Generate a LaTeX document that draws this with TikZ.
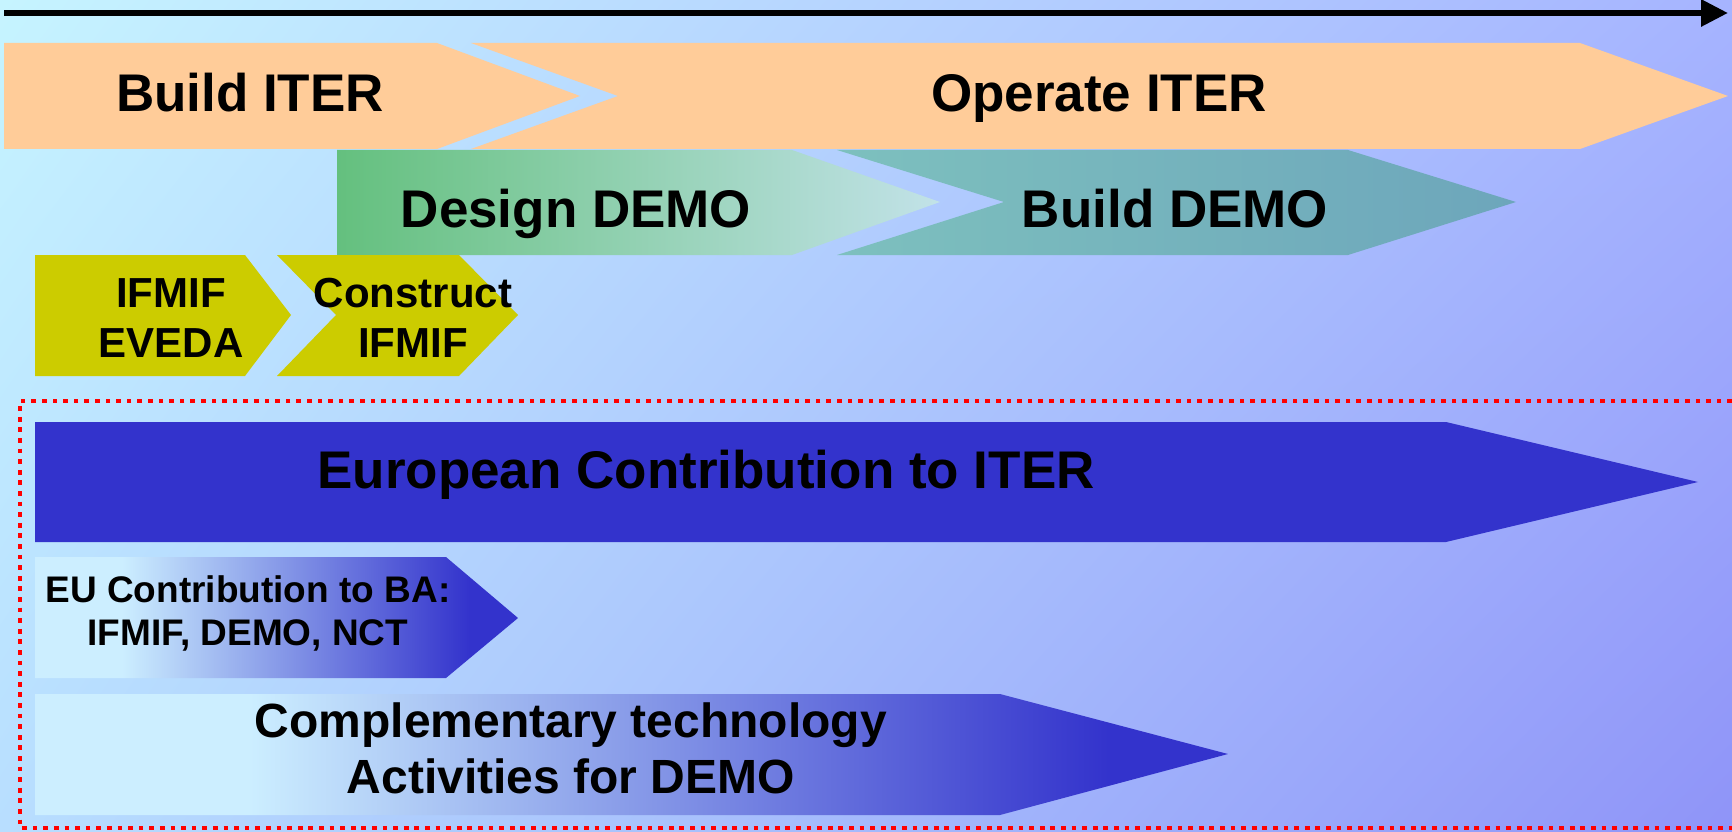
\documentclass[tikz,border=0pt]{standalone}
\usepackage{fontspec}
\setmainfont{Liberation Sans}
\usetikzlibrary{arrows.meta,shadings}

\definecolor{peach}{HTML}{FFCC99}
\definecolor{ifmifyellow}{HTML}{CCCC00}
\definecolor{euroblue}{HTML}{3333CC}
\definecolor{palecyan}{HTML}{CCEEFF}
\definecolor{demogreen}{HTML}{64C07E}
\definecolor{demopale}{HTML}{C2E2E8}
\definecolor{buildteal}{HTML}{7DC0BE}
\definecolor{buildblue}{HTML}{6DA6BB}
\definecolor{bgtl}{HTML}{C6F4FF}
\definecolor{bgtr}{HTML}{A6B4FF}
\definecolor{bgbl}{HTML}{B8DEFF}
\definecolor{bgbr}{HTML}{8F94F8}

% light on the left, blue towards the tip (25bp..75bp is the path)
\pgfdeclarehorizontalshading{eufade}{100bp}{color(0bp)=(palecyan); color(34bp)=(palecyan); color(70bp)=(euroblue); color(100bp)=(euroblue)}

\begin{document}
\begin{tikzpicture}[
    x=1pt, y=-1pt,
    phase/.style={font=\fontsize{53}{60}\selectfont\bfseries, anchor=base, inner sep=0pt},
    small/.style={font=\fontsize{42}{50}\selectfont\bfseries, anchor=base, align=center, inner sep=0pt},
    ba/.style={font=\fontsize{37}{43}\selectfont\bfseries, anchor=base, align=center, inner sep=0pt},
    tech/.style={font=\fontsize{48}{56}\selectfont\bfseries, anchor=base, align=center, inner sep=0pt},
    timeline/.style={line width=6pt, -{Triangle[length=27pt,width=26pt]}},
    frame/.style={draw=red, line width=4.5pt, dash pattern=on 4.7pt off 5.9pt}
]

% Background
\useasboundingbox (0,0) rectangle (1732,832);
\shade[upper left=bgtl, upper right=bgtr, lower left=bgbl, lower right=bgbr] (0,0) rectangle (1732,832);

% Time axis
\coordinate (axisStart) at (4,13);
\coordinate (axisEnd) at (1728,13);
\draw[timeline] (axisStart) -- (axisEnd);

% Row 1: ITER
\fill[peach] (4,43) -- (437,43) -- (580,96) -- (437,149) -- (4,149) -- cycle;
\fill[peach] (471,43) -- (1580,43) -- (1728,96) -- (1580,149) -- (471,149) -- (618,96) -- cycle;
\node[phase] (buildIter) at (250,112) {Build ITER};
\node[phase] (operateIter) at (1099,112) {Operate ITER};

% Row 2: DEMO
\shade[left color=demogreen, right color=demopale] (337,150) -- (792,150) -- (940,202) -- (792,255) -- (337,255) -- cycle;
\shade[left color=buildteal, right color=buildblue] (837,150) -- (1348,150) -- (1516,202) -- (1348,255) -- (837,255) -- (1004,202) -- cycle;
\node[phase] (designDemo) at (576,227) {Design DEMO};
\node[phase] (buildDemo) at (1175,227) {Build DEMO};

% Row 3: IFMIF
\fill[ifmifyellow] (35,255) -- (245,255) -- (291,315) -- (245,376) -- (35,376) -- cycle;
\fill[ifmifyellow] (277,255) -- (459,255) -- (518,315) -- (459,376) -- (277,376) -- (336,315) -- cycle;
\node[small] (eveda) at (171,357) {IFMIF\\EVEDA};
\node[small] (construct) at (413,357) {Construct\\IFMIF};

% European programme (frame runs off the right edge)
\draw[frame] (1732,401) -- (20,401) -- (20,828) -- (1732,828);
\fill[euroblue] (35,422) -- (1446,422) -- (1698,482) -- (1446,542) -- (35,542) -- cycle;
\node[phase] (european) at (706,488) {European Contribution to ITER};
\shade[shading=eufade] (35,557) -- (446,557) -- (518,618) -- (446,678) -- (35,678) -- cycle;
\node[ba] (euBa) at (248,645) {EU Contribution to BA:\\IFMIF, DEMO, NCT};
\shade[shading=eufade] (35,694) -- (1000,694) -- (1228,754) -- (1000,815) -- (35,815) -- cycle;
\node[tech] (complement) at (571,793) {Complementary technology\\Activities for DEMO};

\end{tikzpicture}
\end{document}
